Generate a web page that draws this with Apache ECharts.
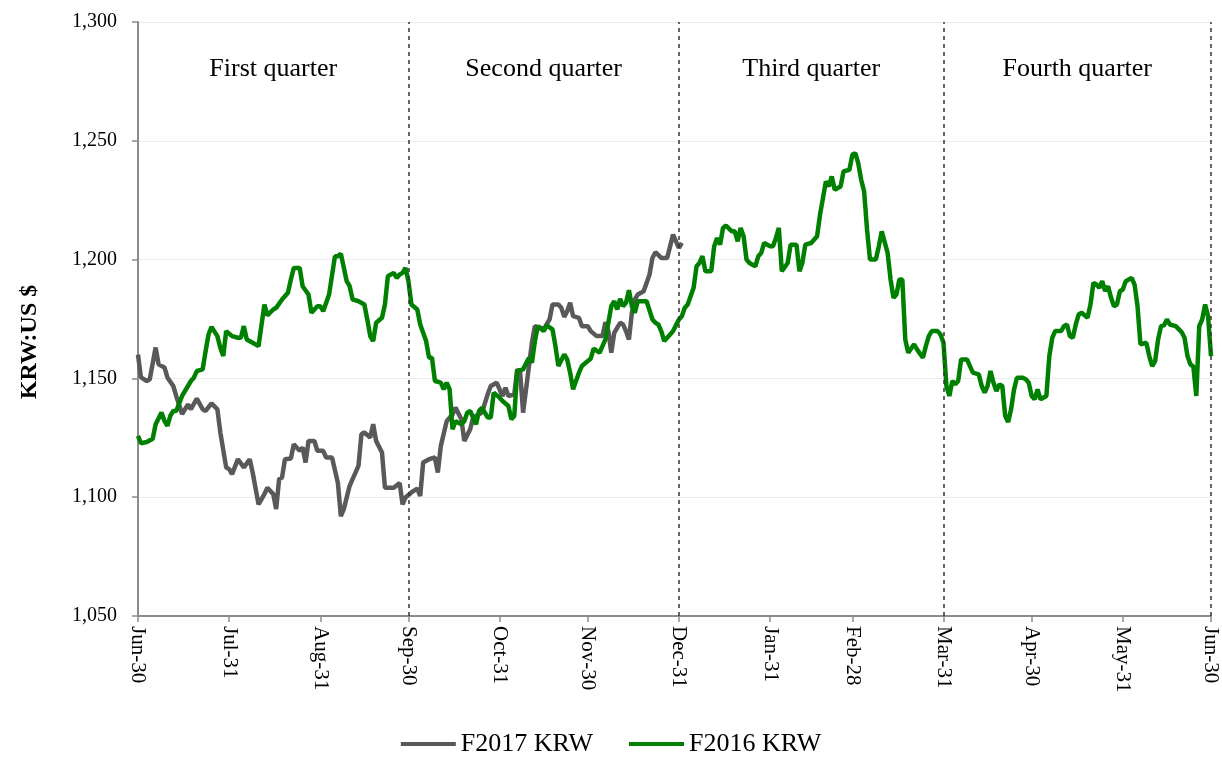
<!DOCTYPE html>
<html>
<head>
<meta charset="utf-8">
<script src="https://cdn.jsdelivr.net/npm/echarts@6/dist/echarts.min.js"></script>
<style>
html,body{margin:0;padding:0;background:#fff;}
#chart{width:1222px;height:762px;}
</style>
</head>
<body>
<div id="chart"></div>
<script>
// x = day offset from Jun-30
var tickDays = [0,31,62,92,123,153,184,215,243,274,304,335,365];
var tickLabels = ['Jun-30','Jul-31','Aug-31','Sep-30','Oct-31','Nov-30','Dec-31','Jan-31','Feb-28','Mar-31','Apr-30','May-31','Jun-30'];
var quarterBounds = [0,92,184,274,365];
var quarterNames = ['First quarter','Second quarter','Third quarter','Fourth quarter'];
var seriesNames = ['F2017 KRW','F2016 KRW'];

var f2017Days = [0,1,3,4,6,7,9,10,12,13,15,17,18,20,22,23,25,27,28,30,31,32,34,36,38,39,41,43,44,46,47,48,49,50,52,53,55,56,57,58,60,61,63,64,66,68,69,70,72,73,75,76,77,79,80,81,83,84,86,87,89,90,91,93,95,96,97,99,101,102,103,105,107,108,110,111,113,114,116,117,119,120,122,124,125,126,128,129,130,131,133,134,135,137,138,140,141,143,144,145,146,147,148,150,151,153,154,156,158,159,160,161,162,164,165,166,167,168,169,170,172,173,174,175,176,178,180,182,183,184,185];
var f2017Vals = [1160,1150.4,1148.9,1149.6,1163,1155.9,1154.6,1150.4,1146.8,1142.6,1135,1139,1137,1141.5,1137,1136.3,1139.5,1137,1127.3,1112.5,1111.8,1109.7,1116,1112.5,1116,1110.4,1097,1101.3,1104,1101.3,1095,1107.6,1108.3,1116,1116.3,1122.3,1119.5,1120.9,1114.6,1123.7,1123.7,1119.5,1119.5,1116.7,1116.7,1106,1092,1095,1104.8,1107.6,1113.2,1126.5,1127.2,1125.1,1130.7,1123.7,1118.8,1104,1104,1104,1106,1097,1099.9,1102,1103.6,1100.5,1114.6,1116,1116.7,1110.4,1121.5,1132,1134.9,1137.7,1132.8,1123.7,1128.6,1133.5,1134.9,1135.6,1143.5,1146.8,1148.2,1142.6,1146.1,1142.6,1143.3,1153.8,1152.4,1135.6,1155.2,1165,1172,1171.3,1170.6,1174.8,1181.1,1181.1,1179.7,1175.9,1178.3,1181.8,1176.2,1175.5,1172,1172,1169.9,1167.8,1167.8,1173.7,1169.9,1160.8,1169.2,1173.4,1172.7,1169.9,1166.4,1177.6,1183.2,1185.3,1186.7,1190.2,1193.7,1200.7,1203.1,1200.7,1200.7,1210.5,1207.7,1204.9,1207];

var f2016Days = [0,1,3,5,6,8,9,10,11,12,13,15,17,18,19,20,22,23,24,25,27,28,29,30,32,34,35,36,37,39,41,43,44,46,47,49,51,52,53,55,56,58,59,61,62,63,65,67,68,69,71,72,73,75,77,78,79,80,81,83,84,85,87,88,89,90,91,92,93,95,96,98,99,100,101,103,104,105,106,107,108,110,111,112,113,115,116,117,119,120,121,123,124,126,127,128,129,131,133,134,135,136,138,139,141,142,143,145,146,147,148,150,151,153,154,155,157,158,159,161,162,163,164,165,166,167,168,169,170,172,173,175,176,177,178,179,181,182,184,185,186,187,189,190,191,192,193,195,196,197,198,199,200,202,203,204,205,206,207,208,210,211,212,213,215,216,217,218,219,221,222,223,224,225,226,227,229,231,232,233,234,235,236,237,239,240,242,243,244,245,246,247,248,249,251,252,253,255,256,257,258,259,260,261,262,264,265,267,268,269,270,272,273,274,275,276,277,278,279,280,282,283,284,286,287,288,289,290,291,292,293,294,295,296,297,298,299,301,302,303,304,305,306,307,309,310,311,312,314,315,316,317,318,319,320,321,323,324,325,326,327,328,329,330,331,332,333,334,335,336,338,339,340,341,343,344,345,346,347,348,349,350,351,353,355,356,357,358,359,360,361,362,363,364,365];
var f2016Vals = [1125.8,1122.7,1123.2,1124.6,1130.7,1135.6,1132.1,1130,1134.2,1136.3,1136.3,1142.6,1146.8,1148.9,1150.3,1153.1,1153.8,1161.5,1168.5,1171.7,1167.8,1162.9,1159.4,1169.9,1167.8,1167.1,1167.1,1172,1166.4,1165,1163.6,1181.1,1176.5,1179,1179.7,1183.2,1186,1191.6,1196.5,1196.5,1188.8,1185.3,1177.6,1180.4,1180.4,1178.3,1185.3,1201.4,1201.4,1202.5,1190.9,1188.8,1183.2,1182.5,1181.1,1174.8,1167.8,1165.7,1173.4,1175.5,1181.1,1193,1194.4,1192.3,1193.7,1194.4,1196.5,1190.9,1181.1,1179,1172.7,1165.7,1158.7,1158.7,1148.9,1148.2,1145.4,1148.2,1145.4,1128.6,1132,1130.7,1132,1135.6,1136.3,1130.7,1136.3,1137.7,1133.5,1133.5,1144,1141.9,1140.5,1138.4,1132.8,1134.2,1153.1,1153.8,1158.7,1156.6,1165.7,1172,1169.9,1172.3,1170.6,1163.6,1155.2,1160.1,1158,1152.4,1145.4,1152.4,1155.2,1157.3,1158.3,1162.5,1160.8,1163.6,1166.4,1180.4,1182.5,1179,1183.5,1180.4,1181.8,1187.1,1180.4,1177.6,1182.5,1182.5,1182.5,1174.8,1173.4,1172.7,1169.9,1165.7,1168.5,1169.9,1174.8,1176.2,1179.7,1181.1,1188.1,1197.2,1198.6,1201.4,1195.1,1195.1,1205.6,1209.1,1206.3,1213.3,1214.3,1211.9,1211.9,1207.7,1213.3,1209.8,1200,1198.6,1197.2,1201.4,1202.8,1207,1205.6,1205.6,1209.1,1213.3,1195.1,1198.6,1206.3,1206.3,1206.3,1195.1,1198.6,1206.3,1207,1209.8,1218.9,1225.9,1232.9,1230.8,1235,1229.4,1230.8,1237.1,1237.8,1244.1,1244.8,1240.6,1233.6,1228.7,1212.6,1200,1200,1205.6,1211.9,1202.8,1191.6,1183.9,1185.3,1191.6,1191.6,1166.4,1160.8,1164.3,1162.2,1158.7,1163.6,1167.8,1169.9,1169.9,1168.5,1165,1146.8,1142.6,1148.9,1147.5,1148.9,1158,1158,1155.2,1152.4,1151.7,1146.8,1144,1146.8,1153.1,1148.2,1144.7,1147.5,1146.8,1134.2,1131.7,1137,1145.4,1150.3,1150.3,1149.6,1148.2,1142.6,1141.2,1145.4,1141.2,1142.6,1159.4,1167.1,1169.9,1169.9,1172,1172.7,1167.8,1167.1,1172.7,1176.9,1177.6,1175.5,1181.1,1190.2,1189.5,1188.1,1190.9,1186.7,1188.8,1183.9,1180.4,1181.1,1186.7,1187.4,1190.9,1192.3,1189.5,1180.4,1164.3,1165,1159.4,1155.2,1157.3,1166.4,1172,1172.3,1174.8,1172.7,1172,1169.5,1167.1,1159.4,1155.9,1155,1142.6,1172,1174.8,1181.1,1176.2,1159.4];

function zip(d, v){ return d.map(function(x,i){ return [x, v[i]]; }); }

var FONT = "'Liberation Serif','Times New Roman',serif";

var quarterAreas = quarterNames.map(function(n,i){
  return [{xAxis: quarterBounds[i], name: n}, {xAxis: quarterBounds[i+1]}];
});
var dashLines = quarterBounds.slice(1).map(function(d){ return {xAxis: d}; });

var chart = echarts.init(document.getElementById('chart'), null, {renderer:'canvas'});
chart.setOption({
  animation: false,
  backgroundColor: '#fff',
  textStyle: {fontFamily: FONT},
  grid: {left: 138, right: 11, top: 22, bottom: 146, containLabel: false},
  legend: {
    data: seriesNames,
    bottom: 0,
    left: 'center',
    icon: 'rect',
    itemWidth: 55,
    itemHeight: 4,
    itemGap: 36,
    textStyle: {fontFamily: FONT, fontSize: 26, color: '#000'}
  },
  xAxis: {
    type: 'value',
    min: 0, max: 365,
    splitLine: {show: false},
    axisLine: {show: true, lineStyle: {color: '#8c8c8c', width: 2}},
    axisTick: {show: true, length: 6, lineStyle: {color: '#8c8c8c', width: 1.5}, customValues: tickDays},
    axisLabel: {
      customValues: tickDays,
      rotate: -90,
      fontFamily: FONT, fontSize: 21, color: '#000', margin: 10,
      formatter: function(v){ var i = tickDays.indexOf(v); return i >= 0 ? tickLabels[i] : ''; }
    }
  },
  yAxis: {
    type: 'value',
    min: 1050, max: 1300, interval: 50,
    name: 'KRW:US $',
    nameLocation: 'middle',
    nameRotate: 90,
    nameGap: 96,
    nameTextStyle: {fontFamily: FONT, fontSize: 24, fontWeight: 'bold', color: '#000', padding: [0, 46, 0, 0]},
    axisLine: {show: true, lineStyle: {color: '#8c8c8c', width: 2}},
    axisTick: {show: true, length: 6, lineStyle: {color: '#8c8c8c', width: 1.5}},
    axisLabel: {
      fontFamily: FONT, fontSize: 20, color: '#000', margin: 21,
      formatter: function(v){ return v.toLocaleString('en-US'); }
    },
    splitLine: {show: true, lineStyle: {color: '#ececec', width: 1}}
  },
  series: [
    {
      name: seriesNames[0],
      type: 'line',
      data: zip(f2017Days, f2017Vals),
      showSymbol: false,
      symbol: 'none',
      lineStyle: {color: '#595959', width: 4.5},
      itemStyle: {color: '#595959'},
      z: 3
    },
    {
      name: seriesNames[1],
      type: 'line',
      data: zip(f2016Days, f2016Vals),
      showSymbol: false,
      symbol: 'none',
      lineStyle: {color: '#008000', width: 4.5},
      itemStyle: {color: '#008000'},
      z: 4,
      markLine: {
        silent: true,
        symbol: ['none','none'],
        label: {show: false},
        lineStyle: {color: '#333', type: [4,4], width: 1.5},
        data: dashLines
      },
      markArea: {
        silent: true,
        itemStyle: {color: 'rgba(0,0,0,0)'},
        label: {show: true, position: 'insideTop', distance: 34, fontFamily: FONT, fontSize: 26, color: '#000'},
        data: quarterAreas
      }
    }
  ]
});
</script>
</body>
</html>
